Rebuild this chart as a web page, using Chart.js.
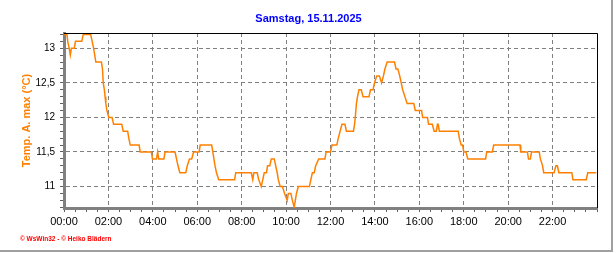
<!DOCTYPE html>
<html>
<head>
<meta charset="utf-8">
<script src="https://cdn.jsdelivr.net/npm/chart.js@4/dist/chart.umd.min.js"></script>
<style>
  html, body { margin: 0; padding: 0; background: #fff; }
  #frame { position: absolute; left: 0; top: 0; width: 611px; height: 250px;
           border-right: 2px solid #a0a0a0; border-bottom: 2px solid #a0a0a0; }
  #chart { position: absolute; left: 0; top: 0; }
</style>
</head>
<body>
<div id="frame"></div>
<canvas id="chart" width="616" height="253"></canvas>
<script>
// chart texts
const titleText  = 'Samstag, 15.11.2025';
const yAxisTitle = 'Temp. A. max (°C)';
const footerText = '© WsWin32 - © Heiko Blädern';

const times = [
  '00:00','00:08','00:10','00:14','00:17','00:20','00:28','00:31','00:48','00:52',
  '01:12','01:16','01:20','01:23','01:26','01:41','01:44','01:46','01:49','01:51',
  '01:53','01:56','02:01','02:10','02:14','02:36','02:40','02:52','02:55','02:59',
  '03:23','03:26','03:56','03:59','04:10','04:13','04:16','04:30','04:33','05:00',
  '05:04','05:08','05:13','05:29','05:33','05:39','05:45','05:50','06:05','06:08',
  '06:39','06:42','06:45','06:48','06:52','06:58','07:41','07:44','08:26','08:30',
  '08:33','08:42','08:46','08:53','08:57','09:01','09:07','09:10','09:16','09:20',
  '09:28','09:32','09:36','09:39','09:44','09:50','09:56','10:03','10:06','10:13',
  '10:17','10:22','10:25','10:28','10:33','11:03','11:07','11:11','11:16','11:20',
  '11:28','11:45','11:48','12:00','12:04','12:17','12:21','12:26','12:31','12:39',
  '12:43','13:02','13:05','13:07','13:10','13:13','13:17','13:23','13:28','13:44',
  '13:48','13:55','13:59','14:05','14:12','14:18','14:23','14:27','14:33','14:53',
  '14:57','15:02','15:07','15:11','15:15','15:21','15:27','15:45','15:49','16:06',
  '16:09','16:22','16:25','16:35','16:40','16:46','16:49','16:51','16:54','17:45',
  '17:48','17:53','17:57','18:00','18:06','18:11','18:59','19:02','19:17','19:21',
  '20:32','20:34','20:52','20:55','21:00','21:03','21:24','21:27','21:33','21:36',
  '22:04','22:09','22:13','22:17','22:52','22:55','23:31','23:35','23:58'
];
const temps = [
  13.2, 13.2, 13.1, 13.0, 12.9, 13.0, 13.0, 13.1, 13.1, 13.2,
  13.2, 13.1, 13.0, 12.9, 12.8, 12.8, 12.7, 12.5, 12.4, 12.3,
  12.2, 12.1, 12.0, 12.0, 11.9, 11.9, 11.8, 11.8, 11.7, 11.6,
  11.6, 11.5, 11.5, 11.4, 11.4, 11.5, 11.4, 11.4, 11.5, 11.5,
  11.4, 11.3, 11.2, 11.2, 11.3, 11.4, 11.4, 11.5, 11.5, 11.6,
  11.6, 11.5, 11.4, 11.3, 11.2, 11.1, 11.1, 11.2, 11.2, 11.1,
  11.2, 11.2, 11.1, 11.0, 11.1, 11.2, 11.2, 11.3, 11.3, 11.4,
  11.4, 11.3, 11.2, 11.1, 11.0, 11.0, 10.9, 10.8, 10.9, 10.9,
  10.8, 10.7, 10.8, 10.9, 11.0, 11.0, 11.1, 11.2, 11.2, 11.3,
  11.4, 11.4, 11.5, 11.5, 11.6, 11.6, 11.7, 11.8, 11.9, 11.9,
  11.8, 11.8, 11.9, 12.0, 12.2, 12.3, 12.4, 12.4, 12.3, 12.3,
  12.4, 12.4, 12.5, 12.6, 12.6, 12.5, 12.6, 12.7, 12.8, 12.8,
  12.7, 12.7, 12.6, 12.5, 12.4, 12.3, 12.2, 12.2, 12.1, 12.1,
  12.0, 12.0, 11.9, 11.9, 11.8, 11.8, 11.9, 11.9, 11.8, 11.8,
  11.7, 11.6, 11.6, 11.5, 11.5, 11.4, 11.4, 11.5, 11.5, 11.6,
  11.6, 11.5, 11.5, 11.4, 11.4, 11.5, 11.5, 11.4, 11.3, 11.2,
  11.2, 11.3, 11.3, 11.2, 11.2, 11.1, 11.1, 11.2, 11.2
];

// labelled ticks (minor ticks every 30 min / 0.1 °C stay unlabelled)
const xTickLabels = ['00:00','02:00','04:00','06:00','08:00','10:00',
                     '12:00','14:00','16:00','18:00','20:00','22:00'];
const yTickValues = [11, 11.5, 12, 12.5, 13];

const toMin = s => { const [h, m] = s.split(':').map(Number); return h * 60 + m; };
const toHHMM = v => {
  const m = Math.round(v);
  return String(Math.floor(m / 60)).padStart(2, '0') + ':' + String(m % 60).padStart(2, '0');
};
const yMajor = v => yTickValues.find(t => Math.abs(t - v) < 1e-6);
const isXMajor = v => xTickLabels.includes(toHHMM(v)) && v > 0;

// black top + right edge of the plot box
const plotFrame = {
  id: 'plotFrame',
  afterDraw(chart) {
    const { ctx, chartArea: a } = chart;
    ctx.save();
    ctx.strokeStyle = '#000';
    ctx.lineWidth = 1;
    ctx.beginPath();
    ctx.moveTo(a.left, a.top + 0.5);
    ctx.lineTo(a.right + 0.5, a.top + 0.5);
    ctx.lineTo(a.right + 0.5, a.bottom);
    ctx.stroke();
    ctx.restore();
  }
};

Chart.defaults.font.family = '"Liberation Sans", Arial, sans-serif';
Chart.defaults.color = '#000';

new Chart(document.getElementById('chart'), {
  type: 'line',
  data: {
    datasets: [{
      data: times.map((t, i) => ({ x: toMin(t), y: temps[i] })),
      borderColor: '#ff8000',
      borderWidth: 1.5,
      pointRadius: 0,
      tension: 0,
      fill: false,
    }],
  },
  options: {
    responsive: false,
    animation: false,
    devicePixelRatio: 1,
    layout: { padding: { left: 20, right: 19, top: 0, bottom: 0 } },
    plugins: {
      legend:  { display: false },
      tooltip: { enabled: false },
      title: {
        display: true,
        text: titleText,
        color: '#0000ff',
        font: { size: 11, weight: 'bold' },
        padding: { top: 12.4, bottom: 7.4 },
      },
      subtitle: {
        display: true,
        text: footerText,
        position: 'bottom',
        align: 'start',
        color: '#ff0000',
        font: { size: 6.5, weight: 'bold' },
        padding: { top: 0, bottom: 10.1 },
      },
    },
    scales: {
      x: {
        type: 'linear',
        min: 0,
        max: 1440,
        afterFit: s => { s.height = 27.1; },
        ticks: {
          stepSize: 30,
          autoSkip: false,
          maxRotation: 0,
          padding: 3,
          font: { size: 11 },
          callback: v => xTickLabels.includes(toHHMM(v)) ? toHHMM(v) : '',
        },
        grid: {
          color: c => c.tick && isXMajor(c.tick.value) && c.tick.value < 1440 ? '#808080' : 'transparent',
          tickColor: '#606060',
          tickLength: 4,
          lineWidth: 1,
        },
        border: { color: '#808080', width: 3, dash: [4, 3] },
      },
      y: {
        type: 'linear',
        min: 10.69,
        max: 13.22,
        afterFit: s => { s.width = 44; },
        title: {
          display: true,
          text: yAxisTitle,
          color: '#ff8000',
          font: { size: 11, weight: 'bold' },
          padding: { top: 0, bottom: 0 },
        },
        ticks: {
          stepSize: 0.1,
          includeBounds: false,
          autoSkip: false,
          padding: 5,
          font: { size: 10 },
          callback: v => {
            const t = yMajor(v);
            return t === undefined ? '' : String(t).replace('.', ',');
          },
        },
        grid: {
          color: c => c.tick && yMajor(c.tick.value) !== undefined ? '#808080' : 'transparent',
          tickColor: '#606060',
          tickLength: 4,
          lineWidth: 1,
        },
        border: { color: '#808080', width: 3, dash: [4, 3] },
      },
    },
  },
  plugins: [plotFrame],
});
</script>
</body>
</html>
